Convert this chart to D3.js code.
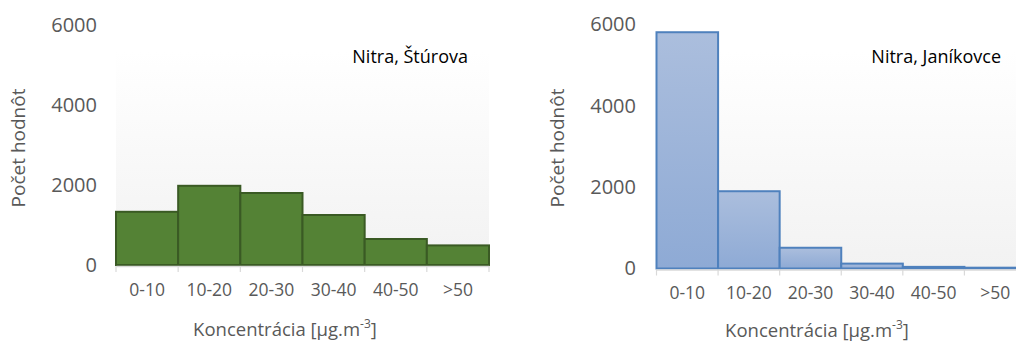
<!DOCTYPE html>
<html>
<head>
<meta charset="utf-8">
<script src="https://cdn.jsdelivr.net/npm/d3@7"></script>
<style>
  html, body { margin: 0; padding: 0; background: #fff; }
  svg { display: block; font-family: "Open Sans", "Noto Sans", sans-serif; }
</style>
</head>
<body>
<svg id="chart" width="1016" height="341"></svg>
<script>
// Concentration classes [µg.m-3]
const categories = ["0-10", "10-20", "20-30", "30-40", "40-50", ">50"];
// Number of values per class at each station
const sturovaCounts = [1330, 1980, 1800, 1250, 650, 490];
const janikovceCounts = [5810, 1900, 510, 120, 40, 20];
const stationNames = ["Nitra, Štúrova", "Nitra, Janíkovce"];
const yTicks = [0, 2000, 4000, 6000];
const yTitle = "Počet hodnôt";

const svg = d3.select("#chart");
const defs = svg.append("defs");

// plot-area background: white fading to light grey
const bg = defs.append("linearGradient").attr("id", "plotBg")
  .attr("x1", 0).attr("y1", 0).attr("x2", 0).attr("y2", 1);
bg.append("stop").attr("offset", "0%").attr("stop-color", "#ffffff");
bg.append("stop").attr("offset", "100%").attr("stop-color", "#f2f2f2");

// blue bar fill, lighter at the top of each bar
const blue = defs.append("linearGradient").attr("id", "blueBar")
  .attr("x1", 0).attr("y1", 0).attr("x2", 0).attr("y2", 1);
blue.append("stop").attr("offset", "0%").attr("stop-color", "#abbedd");
blue.append("stop").attr("offset", "100%").attr("stop-color", "#8eaad5");

const panels = [
  { name: stationNames[0], values: sturovaCounts,
    x0: 116, x1: 489, yZero: 265, yTop: 25, bgTop: 52,
    fill: "#548235", stroke: "#3a5a24",
    yLabelX: 97, yTitleX: 18, xLabelY: 290, xTitleX: 285, xTitleY: 330,
    titleX: 468 },
  { name: stationNames[1], values: janikovceCounts,
    x0: 656.5, x1: 1026, yZero: 268.5, yTop: 24.5, bgTop: 52,
    fill: "url(#blueBar)", stroke: "#4f81bd",
    yLabelX: 636, yTitleX: 557, xLabelY: 293, xTitleX: 817, xTitleY: 331,
    titleX: 1001 }
];

panels.forEach(p => {
  const g = svg.append("g");
  const x = d3.scaleBand().domain(categories).range([p.x0, p.x1]).padding(0);
  const y = d3.scaleLinear().domain([0, 6000]).range([p.yZero, p.yTop]);

  g.append("rect")
    .attr("x", p.x0).attr("y", p.bgTop)
    .attr("width", p.x1 - p.x0).attr("height", p.yZero - p.bgTop)
    .attr("fill", "url(#plotBg)");

  // y tick labels (no axis line)
  const yAxis = g.append("g")
    .attr("transform", `translate(${p.yLabelX},0)`)
    .call(d3.axisLeft(y).tickValues(yTicks).tickSize(0).tickPadding(0).tickFormat(d3.format("d")));
  yAxis.select(".domain").remove();
  yAxis.selectAll("text")
    .attr("fill", "#595959").attr("font-size", 20)
    .attr("font-family", "Open Sans, sans-serif");

  // histogram bars
  g.selectAll("rect.bar").data(p.values).join("rect")
    .attr("class", "bar")
    .attr("x", (d, i) => x(categories[i]))
    .attr("y", d => y(d))
    .attr("width", x.bandwidth())
    .attr("height", d => p.yZero - y(d))
    .attr("fill", p.fill)
    .attr("stroke", p.stroke)
    .attr("stroke-width", 2);

  // category axis with ticks at the class boundaries
  const xAxis = g.append("g").attr("transform", `translate(0,${p.yZero + 1})`)
    .call(d3.axisBottom(x).tickSize(0).tickPadding(0));
  xAxis.select(".domain").attr("stroke", "#d9d9d9").attr("stroke-width", 1.5);
  xAxis.selectAll("text")
    .attr("y", p.xLabelY - p.yZero - 1)
    .attr("dy", "0.35em")
    .attr("fill", "#595959").attr("font-size", 17.5)
    .attr("font-family", "Open Sans, sans-serif");
  const edges = categories.map(c => x(c)).concat([p.x1]);
  g.selectAll("line.edge").data(edges).join("line")
    .attr("class", "edge")
    .attr("x1", d => d).attr("x2", d => d)
    .attr("y1", p.yZero + 1).attr("y2", p.yZero + 7)
    .attr("stroke", "#d9d9d9").attr("stroke-width", 1.2);

  // y axis title
  g.append("text")
    .attr("transform", `translate(${p.yTitleX},${148}) rotate(-90)`)
    .attr("text-anchor", "middle").attr("dy", "0.35em")
    .attr("fill", "#595959").attr("font-size", 19)
    .text(yTitle);

  // x axis title with superscript unit exponent
  const xt = g.append("text")
    .attr("x", p.xTitleX).attr("y", p.xTitleY)
    .attr("text-anchor", "middle").attr("dy", "0.35em")
    .attr("fill", "#595959").attr("font-size", 18.5);
  xt.append("tspan").text("Koncentrácia [µg.m");
  xt.append("tspan").attr("font-size", 12).attr("dy", "-0.7em").text("-3");
  xt.append("tspan").attr("dy", "0.45em").text("]");

  // station name
  g.append("text")
    .attr("x", p.titleX).attr("y", 57)
    .attr("text-anchor", "end").attr("dy", "0.35em")
    .attr("fill", "#000").attr("font-size", 18)
    .text(p.name);
});
</script>
</body>
</html>
